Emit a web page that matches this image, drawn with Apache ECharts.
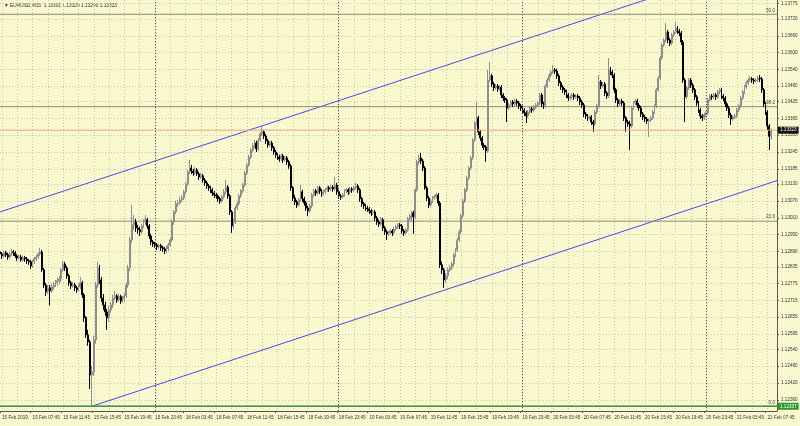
<!DOCTYPE html>
<html><head><meta charset="utf-8">
<script src="https://cdn.jsdelivr.net/npm/echarts@6/dist/echarts.min.js"></script>
<style>html,body{margin:0;padding:0;background:#f9f8cf;}#c{width:800px;height:426px;}</style>
</head><body><div id="c"></div>
<script>
// ---- data: EURUSD M15 candles [open, close, low, high], one array per trading day ----
const feb15 = [
[1.12888,1.12881,1.12870,1.12895],[1.12881,1.12874,1.12863,1.12888],[1.12874,1.12885,1.12867,1.12892],[1.12885,1.12878,1.12870,1.12892],
[1.12878,1.12870,1.12860,1.12885],[1.12870,1.12881,1.12863,1.12888],[1.12881,1.12888,1.12874,1.12899],[1.12888,1.12885,1.12874,1.12895],
[1.12885,1.12874,1.12867,1.12892],[1.12874,1.12867,1.12856,1.12881],[1.12867,1.12870,1.12860,1.12878],[1.12870,1.12860,1.12853,1.12878],
[1.12860,1.12867,1.12853,1.12874],[1.12867,1.12863,1.12853,1.12874],[1.12863,1.12856,1.12845,1.12870],[1.12856,1.12853,1.12842,1.12863],
[1.12853,1.12838,1.12828,1.12860],[1.12838,1.12853,1.12831,1.12860],[1.12853,1.12863,1.12845,1.12870],[1.12863,1.12870,1.12856,1.12878],
[1.12870,1.12881,1.12863,1.12888],[1.12881,1.12888,1.12874,1.12903],[1.12888,1.12824,1.12817,1.12895],[1.12824,1.12770,1.12760,1.12831],
[1.12770,1.12746,1.12731,1.12778],[1.12746,1.12760,1.12738,1.12770],[1.12760,1.12749,1.12696,1.12770],[1.12749,1.12763,1.12742,1.12774],
[1.12763,1.12770,1.12753,1.12781],[1.12770,1.12778,1.12763,1.12788],[1.12778,1.12785,1.12767,1.12795],[1.12785,1.12792,1.12774,1.12803],
[1.12792,1.12824,1.12781,1.12831],[1.12824,1.12845,1.12817,1.12856],[1.12845,1.12831,1.12820,1.12853],[1.12831,1.12803,1.12792,1.12838],
[1.12803,1.12778,1.12767,1.12810],[1.12778,1.12767,1.12756,1.12785],[1.12767,1.12770,1.12760,1.12781],[1.12770,1.12760,1.12749,1.12778],
[1.12760,1.12753,1.12742,1.12767],[1.12753,1.12763,1.12746,1.12774],[1.12763,1.12778,1.12756,1.12799],[1.12778,1.12735,1.12724,1.12785],
[1.12735,1.12653,1.12638,1.12742],[1.12653,1.12592,1.12581,1.12660],[1.12592,1.12567,1.12553,1.12610],[1.12567,1.12449,1.12399,1.12574],
[1.12449,1.12460,1.12337,1.12481],[1.12460,1.12574,1.12446,1.12588],[1.12574,1.12770,1.12560,1.12781],[1.12770,1.12831,1.12760,1.12853],
[1.12831,1.12788,1.12774,1.12842],[1.12788,1.12724,1.12710,1.12799],[1.12724,1.12699,1.12681,1.12738],[1.12699,1.12674,1.12660,1.12710],
[1.12674,1.12653,1.12610,1.12685],[1.12653,1.12681,1.12638,1.12696],[1.12681,1.12699,1.12671,1.12710],[1.12699,1.12724,1.12688,1.12735],
[1.12724,1.12731,1.12717,1.12749],[1.12731,1.12717,1.12706,1.12738],[1.12717,1.12728,1.12710,1.12738],[1.12728,1.12713,1.12703,1.12735],
[1.12713,1.12721,1.12706,1.12731],[1.12721,1.12731,1.12710,1.12742],[1.12731,1.12770,1.12724,1.12778],[1.12770,1.12831,1.12760,1.12842],
[1.12831,1.12931,1.12820,1.12942],[1.12931,1.12985,1.12920,1.13056],[1.12985,1.12995,1.12967,1.13020],[1.12995,1.12974,1.12960,1.13006],
[1.12974,1.12967,1.12953,1.12985],[1.12967,1.12960,1.12945,1.12978],[1.12960,1.12981,1.12953,1.12988],[1.12981,1.12995,1.12974,1.13006],
[1.12995,1.13003,1.12985,1.13020],[1.13003,1.12981,1.12970,1.13010],[1.12981,1.12945,1.12935,1.12988],[1.12945,1.12924,1.12913,1.12953],
[1.12924,1.12917,1.12906,1.12931]
];
const feb18 = [
[1.12917,1.12913,1.12903,1.12924],[1.12913,1.12906,1.12895,1.12920],[1.12906,1.12910,1.12899,1.12917],[1.12910,1.12903,1.12892,1.12917],
[1.12903,1.12899,1.12888,1.12910],[1.12899,1.12892,1.12881,1.12906],[1.12892,1.12899,1.12885,1.12910],[1.12899,1.12913,1.12892,1.12920],
[1.12913,1.12931,1.12906,1.12938],[1.12931,1.12995,1.12924,1.13003],[1.12995,1.13031,1.12985,1.13038],[1.13031,1.13060,1.13024,1.13070],
[1.13060,1.13063,1.13049,1.13074],[1.13063,1.13074,1.13056,1.13085],[1.13074,1.13081,1.13067,1.13092],[1.13081,1.13103,1.13074,1.13110],
[1.13103,1.13131,1.13095,1.13138],[1.13131,1.13174,1.13124,1.13181],[1.13174,1.13188,1.13167,1.13217],[1.13188,1.13177,1.13167,1.13199],
[1.13177,1.13170,1.13160,1.13185],[1.13170,1.13181,1.13163,1.13192],[1.13181,1.13167,1.13160,1.13188],[1.13167,1.13156,1.13145,1.13174],
[1.13156,1.13160,1.13149,1.13170],[1.13160,1.13145,1.13135,1.13167],[1.13145,1.13135,1.13124,1.13152],[1.13135,1.13124,1.13113,1.13142],
[1.13124,1.13117,1.13106,1.13131],[1.13117,1.13110,1.13099,1.13124],[1.13110,1.13099,1.13088,1.13117],[1.13099,1.13092,1.13081,1.13106],
[1.13092,1.13088,1.13078,1.13099],[1.13088,1.13078,1.13067,1.13095],[1.13078,1.13070,1.13060,1.13085],[1.13070,1.13085,1.13063,1.13092],
[1.13085,1.13103,1.13078,1.13113],[1.13103,1.13120,1.13095,1.13145],[1.13120,1.13088,1.13078,1.13127],[1.13088,1.13031,1.13020,1.13095],
[1.13031,1.12981,1.12956,1.13038],[1.12981,1.12995,1.12970,1.13006],[1.12995,1.13045,1.12988,1.13053],[1.13045,1.13060,1.13038,1.13070],
[1.13060,1.13088,1.13053,1.13095],[1.13088,1.13106,1.13081,1.13113],[1.13106,1.13127,1.13099,1.13135],[1.13127,1.13170,1.13120,1.13177],
[1.13170,1.13199,1.13163,1.13206],[1.13199,1.13227,1.13192,1.13235],[1.13227,1.13252,1.13220,1.13260],[1.13252,1.13267,1.13245,1.13277],
[1.13267,1.13277,1.13260,1.13288],[1.13277,1.13256,1.13245,1.13285],[1.13256,1.13288,1.13249,1.13295],[1.13288,1.13310,1.13281,1.13317],
[1.13310,1.13317,1.13302,1.13335],[1.13317,1.13302,1.13292,1.13324],[1.13302,1.13285,1.13274,1.13310],[1.13285,1.13270,1.13260,1.13292],
[1.13270,1.13277,1.13263,1.13285],[1.13277,1.13260,1.13249,1.13285],[1.13260,1.13245,1.13235,1.13267],[1.13245,1.13235,1.13224,1.13252],
[1.13235,1.13227,1.13217,1.13242],[1.13227,1.13220,1.13210,1.13235],[1.13220,1.13231,1.13213,1.13238],[1.13231,1.13217,1.13206,1.13238],
[1.13217,1.13224,1.13210,1.13231],[1.13224,1.13210,1.13199,1.13231],[1.13210,1.13195,1.13185,1.13217],[1.13195,1.13117,1.13106,1.13202],
[1.13117,1.13081,1.13070,1.13124],[1.13081,1.13067,1.13056,1.13092],[1.13067,1.13056,1.13045,1.13074],[1.13056,1.13074,1.13049,1.13081],
[1.13074,1.13103,1.13067,1.13127],[1.13103,1.13078,1.13067,1.13110],[1.13078,1.13063,1.13053,1.13085],[1.13063,1.13045,1.13035,1.13070],
[1.13045,1.13035,1.13017,1.13053],[1.13035,1.13053,1.13028,1.13060],[1.13053,1.13092,1.13045,1.13099],[1.13092,1.13106,1.13085,1.13113],
[1.13106,1.13099,1.13088,1.13113],[1.13099,1.13117,1.13092,1.13124],[1.13117,1.13106,1.13095,1.13124],[1.13106,1.13095,1.13085,1.13113],
[1.13095,1.13103,1.13088,1.13110],[1.13103,1.13110,1.13095,1.13117],[1.13110,1.13117,1.13103,1.13124],[1.13117,1.13113,1.13103,1.13124],
[1.13113,1.13120,1.13106,1.13127],[1.13120,1.13113,1.13103,1.13127],[1.13113,1.13127,1.13106,1.13156],[1.13127,1.13103,1.13092,1.13135]
];
const feb19 = [
[1.13103,1.13088,1.13078,1.13110],[1.13088,1.13085,1.13074,1.13095],[1.13085,1.13092,1.13078,1.13099],[1.13092,1.13106,1.13085,1.13113],
[1.13106,1.13110,1.13099,1.13117],[1.13110,1.13103,1.13092,1.13117],[1.13103,1.13113,1.13095,1.13120],[1.13113,1.13110,1.13099,1.13120],
[1.13110,1.13117,1.13103,1.13124],[1.13117,1.13124,1.13110,1.13135],[1.13124,1.13110,1.13099,1.13131],[1.13110,1.13078,1.13067,1.13117],
[1.13078,1.13060,1.13049,1.13085],[1.13060,1.13053,1.13042,1.13067],[1.13053,1.13045,1.13035,1.13060],[1.13045,1.13042,1.13031,1.13053],
[1.13042,1.13035,1.13024,1.13049],[1.13035,1.13028,1.13017,1.13042],[1.13028,1.13031,1.13020,1.13038],[1.13031,1.13010,1.12999,1.13038],
[1.13010,1.12995,1.12985,1.13017],[1.12995,1.12988,1.12978,1.13003],[1.12988,1.13003,1.12981,1.13013],[1.13003,1.12974,1.12963,1.13010],
[1.12974,1.12960,1.12949,1.12981],[1.12960,1.12953,1.12931,1.12967],[1.12953,1.12956,1.12945,1.12963],[1.12956,1.12963,1.12949,1.12970],
[1.12963,1.12956,1.12945,1.12970],[1.12956,1.12970,1.12949,1.12978],[1.12970,1.12978,1.12963,1.12985],[1.12978,1.12985,1.12970,1.12992],
[1.12985,1.12981,1.12970,1.12992],[1.12981,1.12963,1.12953,1.12988],[1.12963,1.12956,1.12945,1.12970],[1.12956,1.12967,1.12949,1.12974],
[1.12967,1.13006,1.12960,1.13013],[1.13006,1.13017,1.12999,1.13024],[1.13017,1.13028,1.12995,1.13035],[1.13028,1.13013,1.12953,1.13035],
[1.13013,1.13110,1.13006,1.13117],[1.13110,1.13210,1.13103,1.13217],[1.13210,1.13224,1.13199,1.13235],[1.13224,1.13213,1.13202,1.13242],
[1.13213,1.13188,1.13177,1.13220],[1.13188,1.13117,1.13110,1.13195],[1.13117,1.13081,1.13070,1.13124],[1.13081,1.13056,1.13045,1.13088],
[1.13056,1.13070,1.13049,1.13078],[1.13070,1.13081,1.13063,1.13088],[1.13081,1.13085,1.13074,1.13092],[1.13085,1.13092,1.13078,1.13099],
[1.13092,1.13063,1.13053,1.13099],[1.13063,1.12842,1.12831,1.13070],[1.12842,1.12824,1.12810,1.12853],[1.12824,1.12788,1.12760,1.12831],
[1.12788,1.12803,1.12778,1.12813],[1.12803,1.12824,1.12792,1.12831],[1.12824,1.12831,1.12817,1.12842],[1.12831,1.12845,1.12824,1.12853],
[1.12845,1.12878,1.12838,1.12885],[1.12878,1.12895,1.12870,1.12903],[1.12895,1.12931,1.12888,1.12938],[1.12931,1.12960,1.12924,1.12967],
[1.12960,1.13017,1.12953,1.13024],[1.13017,1.13070,1.13010,1.13078],[1.13070,1.13110,1.13063,1.13117],[1.13110,1.13152,1.13103,1.13160],
[1.13152,1.13188,1.13145,1.13195],[1.13188,1.13224,1.13181,1.13231],[1.13224,1.13288,1.13217,1.13295],[1.13288,1.13349,1.13281,1.13356],
[1.13349,1.13367,1.13342,1.13424],[1.13367,1.13317,1.13306,1.13374],[1.13317,1.13295,1.13285,1.13324],[1.13295,1.13270,1.13260,1.13302],
[1.13270,1.13263,1.13252,1.13277],[1.13263,1.13249,1.13210,1.13270],[1.13249,1.13502,1.13242,1.13538],[1.13502,1.13517,1.13495,1.13567],
[1.13517,1.13488,1.13477,1.13524],[1.13488,1.13474,1.13463,1.13495],[1.13474,1.13481,1.13467,1.13488],[1.13481,1.13470,1.13460,1.13488],
[1.13470,1.13477,1.13463,1.13484],[1.13477,1.13449,1.13438,1.13484],[1.13449,1.13438,1.13427,1.13456],[1.13438,1.13431,1.13420,1.13445],
[1.13431,1.13402,1.13352,1.13438],[1.13402,1.13413,1.13395,1.13420],[1.13413,1.13424,1.13406,1.13431],[1.13424,1.13417,1.13406,1.13431],
[1.13417,1.13427,1.13410,1.13435],[1.13427,1.13420,1.13410,1.13435],[1.13420,1.13410,1.13399,1.13427],[1.13410,1.13402,1.13392,1.13417]
];
const feb20 = [
[1.13402,1.13395,1.13385,1.13410],[1.13395,1.13385,1.13374,1.13402],[1.13385,1.13374,1.13349,1.13392],[1.13374,1.13388,1.13367,1.13395],
[1.13388,1.13399,1.13381,1.13406],[1.13399,1.13395,1.13385,1.13406],[1.13395,1.13406,1.13388,1.13413],[1.13406,1.13413,1.13399,1.13420],
[1.13413,1.13420,1.13406,1.13427],[1.13420,1.13449,1.13413,1.13456],[1.13449,1.13417,1.13406,1.13456],[1.13417,1.13410,1.13399,1.13424],
[1.13410,1.13481,1.13402,1.13488],[1.13481,1.13502,1.13474,1.13509],[1.13502,1.13520,1.13495,1.13527],[1.13520,1.13531,1.13513,1.13538],
[1.13531,1.13538,1.13524,1.13556],[1.13538,1.13534,1.13524,1.13545],[1.13534,1.13517,1.13506,1.13542],[1.13517,1.13492,1.13481,1.13524],
[1.13492,1.13477,1.13467,1.13499],[1.13477,1.13467,1.13456,1.13484],[1.13467,1.13460,1.13449,1.13474],[1.13460,1.13449,1.13438,1.13467],
[1.13449,1.13438,1.13427,1.13456],[1.13438,1.13442,1.13431,1.13449],[1.13442,1.13449,1.13435,1.13456],[1.13449,1.13442,1.13431,1.13456],
[1.13442,1.13445,1.13435,1.13452],[1.13445,1.13438,1.13427,1.13452],[1.13438,1.13424,1.13413,1.13445],[1.13424,1.13413,1.13402,1.13431],
[1.13413,1.13381,1.13370,1.13420],[1.13381,1.13374,1.13363,1.13388],[1.13374,1.13367,1.13356,1.13381],[1.13367,1.13370,1.13360,1.13377],
[1.13370,1.13352,1.13342,1.13377],[1.13352,1.13345,1.13317,1.13360],[1.13345,1.13388,1.13338,1.13395],[1.13388,1.13410,1.13381,1.13417],
[1.13410,1.13495,1.13402,1.13520],[1.13495,1.13481,1.13470,1.13502],[1.13481,1.13488,1.13474,1.13495],[1.13488,1.13456,1.13445,1.13495],
[1.13456,1.13445,1.13435,1.13463],[1.13445,1.13538,1.13438,1.13581],[1.13538,1.13531,1.13520,1.13549],[1.13531,1.13520,1.13509,1.13538],
[1.13520,1.13467,1.13456,1.13527],[1.13467,1.13431,1.13420,1.13474],[1.13431,1.13417,1.13406,1.13438],[1.13417,1.13427,1.13410,1.13435],
[1.13427,1.13420,1.13410,1.13435],[1.13420,1.13367,1.13356,1.13427],[1.13367,1.13352,1.13317,1.13374],[1.13352,1.13345,1.13335,1.13360],
[1.13345,1.13338,1.13252,1.13356],[1.13338,1.13402,1.13331,1.13410],[1.13402,1.13420,1.13395,1.13427],[1.13420,1.13427,1.13413,1.13435],
[1.13427,1.13413,1.13402,1.13435],[1.13413,1.13402,1.13392,1.13420],[1.13402,1.13381,1.13370,1.13410],[1.13381,1.13370,1.13360,1.13388],
[1.13370,1.13363,1.13352,1.13377],[1.13363,1.13356,1.13345,1.13370],[1.13356,1.13360,1.13299,1.13367],[1.13360,1.13367,1.13352,1.13374],
[1.13367,1.13388,1.13360,1.13395],[1.13388,1.13410,1.13381,1.13417],[1.13410,1.13467,1.13402,1.13474],[1.13467,1.13509,1.13460,1.13517],
[1.13509,1.13581,1.13502,1.13588],[1.13581,1.13627,1.13574,1.13634],[1.13627,1.13645,1.13620,1.13652],[1.13645,1.13674,1.13638,1.13706],
[1.13674,1.13645,1.13634,1.13681],[1.13645,1.13634,1.13624,1.13652],[1.13634,1.13663,1.13627,1.13670],[1.13663,1.13674,1.13656,1.13681],
[1.13674,1.13688,1.13667,1.13709],[1.13688,1.13677,1.13667,1.13695],[1.13677,1.13670,1.13659,1.13685],[1.13670,1.13638,1.13627,1.13677],
[1.13638,1.13502,1.13492,1.13645],[1.13502,1.13442,1.13352,1.13509],[1.13442,1.13474,1.13435,1.13481],[1.13474,1.13502,1.13467,1.13509],
[1.13502,1.13484,1.13474,1.13509],[1.13484,1.13467,1.13456,1.13492],[1.13467,1.13442,1.13431,1.13474],[1.13442,1.13420,1.13410,1.13449],
[1.13420,1.13395,1.13385,1.13427],[1.13395,1.13374,1.13363,1.13402],[1.13374,1.13367,1.13356,1.13381],[1.13367,1.13377,1.13360,1.13385]
];
const feb21 = [
[1.13377,1.13385,1.13370,1.13392],[1.13385,1.13431,1.13377,1.13438],[1.13431,1.13445,1.13424,1.13452],[1.13445,1.13442,1.13431,1.13452],
[1.13442,1.13449,1.13435,1.13456],[1.13449,1.13442,1.13431,1.13456],[1.13442,1.13460,1.13435,1.13467],[1.13460,1.13467,1.13452,1.13474],
[1.13467,1.13445,1.13435,1.13474],[1.13445,1.13438,1.13427,1.13452],[1.13438,1.13417,1.13406,1.13445],[1.13417,1.13402,1.13392,1.13424],
[1.13402,1.13377,1.13367,1.13410],[1.13377,1.13363,1.13342,1.13385],[1.13363,1.13370,1.13356,1.13377],[1.13370,1.13374,1.13363,1.13381],
[1.13374,1.13395,1.13367,1.13402],[1.13395,1.13410,1.13388,1.13417],[1.13410,1.13438,1.13402,1.13445],[1.13438,1.13460,1.13431,1.13467],
[1.13460,1.13477,1.13452,1.13484],[1.13477,1.13492,1.13470,1.13499],[1.13492,1.13502,1.13484,1.13509],[1.13502,1.13506,1.13495,1.13517],
[1.13506,1.13502,1.13492,1.13513],[1.13502,1.13499,1.13488,1.13509],[1.13499,1.13502,1.13492,1.13509],[1.13502,1.13509,1.13495,1.13517],
[1.13509,1.13506,1.13495,1.13520],[1.13506,1.13467,1.13456,1.13513],[1.13467,1.13417,1.13406,1.13474],[1.13417,1.13388,1.13377,1.13424],
[1.13388,1.13338,1.13324,1.13395],[1.13338,1.13301,1.13252,1.13345],[1.13301,1.13323,1.13290,1.13329]
];

// time-scale labels (one every 16 bars, first bar = 15 Feb 03:45)
const timeLabels = ['15 Feb 2019','15 Feb 07:45','15 Feb 11:45','15 Feb 15:45','15 Feb 19:45','15 Feb 23:45',
  '18 Feb 03:45','18 Feb 07:45','18 Feb 11:45','18 Feb 15:45','18 Feb 19:45','18 Feb 23:45',
  '19 Feb 03:45','19 Feb 07:45','19 Feb 11:45','19 Feb 15:45','19 Feb 19:45','19 Feb 23:45',
  '20 Feb 03:45','20 Feb 07:45','20 Feb 11:45','20 Feb 15:45','20 Feb 19:45','20 Feb 23:45',
  '21 Feb 03:45','21 Feb 07:45'];
const priceTicks = [1.13775,1.13720,1.13660,1.13600,1.13540,1.13480,1.13425,1.13365,1.13305,1.13245,1.13185,1.13130,1.13070,
  1.13010,1.12950,1.12890,1.12835,1.12775,1.12715,1.12655,1.12595,1.12540,1.12480,1.12420,1.12360,1.12305];
const fiboNames = ['0.0','23.6','38.2','50.0'];
const fiboPrices = [1.12337,1.12998,1.13407,1.13737];
const bidPrice = 1.13323;
const greenLinePrice = 1.12337;
const daySeparators = [81,177,273,369];
const channelUpper = [[0,1.13031],[406,1.13943]];
const channelLower = [[48,1.12337],[406,1.13143]];
const headerText = '\u25BC EURUSD,M15  1.13301 1.13329 1.13290 1.13323';

// ---- build ----
const bars = [].concat(feb15, feb18, feb19, feb20, feb21);
const slotCount = 407;
const lastSlot = slotCount - 1;
const cats = [];
for (let i = 0; i < slotCount; i++) cats.push(i);

const FONT = 'Liberation Sans';
const gridCol = '#c9c8ac';
const fiboCol = '#8c8c74';

function hSeries(price, color, width, z) {
  return { type: 'line', data: [[0, price], [lastSlot, price]], symbol: 'none',
    clip: false, silent: true, z: z, lineStyle: { color: color, width: width } };
}
const extraSeries = [];
fiboPrices.forEach((p, k) => {
  const s = hSeries(p, fiboCol, 1, 2);
  s.symbol = 'rect'; s.symbolSize = 1; s.showSymbol = true; s.itemStyle = { color: fiboCol };
  s.data = [
    { value: [0, p], label: { show: false } },
    { value: [lastSlot, p], label: { show: true, position: 'top', align: 'right', offset: [-2, 0], distance: 1,
      formatter: fiboNames[k], color: '#444', fontSize: 4.6, fontFamily: FONT } }
  ];
  extraSeries.push(s);
});
const green = hSeries(greenLinePrice, '#3f9a3f', 1.5, 4);
green.endLabel = { show: true, formatter: greenLinePrice.toFixed(5), color: '#fff', backgroundColor: '#2f962f',
  padding: [1, 2, 1, 2], fontSize: 4.6, fontFamily: FONT, distance: 1 };
extraSeries.push(green);
const bid = hSeries(bidPrice, '#f2a27a', 1, 4);
bid.endLabel = { show: true, formatter: bidPrice.toFixed(5), color: '#fff', backgroundColor: '#111',
  padding: [1, 2, 1, 2], fontSize: 4.6, fontFamily: FONT, distance: 1 };
extraSeries.push(bid);

const vLines = daySeparators.map(d => ({ xAxis: d, lineStyle: { color: '#555', width: 1, type: [1, 2] }, label: { show: false } }));

const chart = echarts.init(document.getElementById('c'), null, { renderer: 'canvas' });
chart.setOption({
  animation: false,
  backgroundColor: '#f9f8cf',
  textStyle: { fontFamily: FONT },
  graphic: [{ type: 'text', left: 4, top: 3, style: { text: headerText, fontSize: 4.8, fill: '#333', fontFamily: FONT } }],
  grid: { left: 0, right: 23, top: 0, bottom: 15, outerBoundsMode: 'none', containLabel: false },
  xAxis: {
    type: 'category', data: cats, boundaryGap: false,
    axisLine: { show: true, lineStyle: { color: '#555', width: 1 } },
    axisTick: { show: true, length: 2, interval: (i) => i % 16 === 0, lineStyle: { color: '#555' } },
    axisLabel: { show: true, interval: (i) => i % 16 === 0, formatter: (v, i) => timeLabels[i / 16] || '',
      align: 'left', fontSize: 4.6, color: '#333', margin: 4, padding: [0, 0, 0, 2], fontFamily: FONT },
    splitLine: { show: true, interval: (i) => i % 8 === 1, lineStyle: { color: gridCol, width: 1, type: [1, 2] } }
  },
  yAxis: {
    type: 'value', position: 'right', scale: true, min: 1.1232, max: 1.13788,
    axisLine: { show: true, lineStyle: { color: '#555', width: 1 } },
    axisTick: { show: true, length: 2, customValues: priceTicks, lineStyle: { color: '#555' } },
    axisLabel: { show: true, customValues: priceTicks, formatter: (v) => v.toFixed(5), fontSize: 4.6, color: '#333', margin: 4, fontFamily: FONT },
    splitLine: { show: true, lineStyle: { color: gridCol, width: 1, type: [1, 2] } }
  },
  series: [
    {
      type: 'candlestick', data: bars, barWidth: 1.4, z: 3,
      itemStyle: { color: '#8e8e8e', color0: '#000', borderColor: '#8e8e8e', borderColor0: '#000', borderWidth: 1 },
      markLine: { silent: true, symbol: ['none', 'none'], animation: false, data: vLines }
    },
    { type: 'line', data: channelUpper, symbol: 'none', clip: true, lineStyle: { color: '#4a4ae8', width: 1 }, silent: true, z: 2 },
    { type: 'line', data: channelLower, symbol: 'none', clip: true, lineStyle: { color: '#4a4ae8', width: 1 }, silent: true, z: 2 }
  ].concat(extraSeries)
});
</script>
</body></html>
